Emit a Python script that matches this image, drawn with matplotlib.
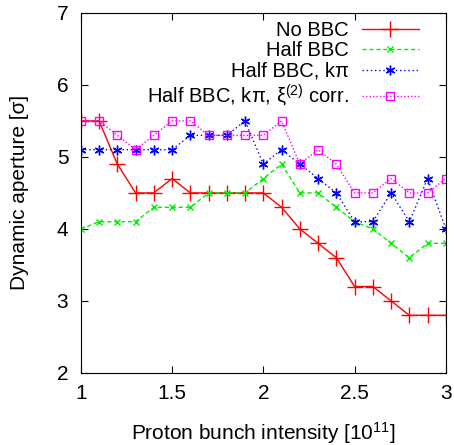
import numpy as np, matplotlib
matplotlib.use("Agg")
import matplotlib.pyplot as plt

plt.rcParams.update({"font.family": ["Liberation Sans", "DejaVu Sans"],
                     "mathtext.fontset": "custom", "mathtext.rm": "Liberation Sans",
                     "mathtext.it": "Liberation Sans:italic"})

# bunch intensity [1e11] and dynamic aperture [sigma]
intensity = [1.0, 1.1, 1.2, 1.3, 1.4, 1.5, 1.6, 1.7, 1.8, 1.9, 2.0,
             2.1, 2.2, 2.3, 2.4, 2.5, 2.6, 2.7, 2.8, 2.9, 3.0]
no_bbc = [5.5, 5.5, 4.9, 4.5, 4.5, 4.7, 4.5, 4.5, 4.5, 4.5, 4.5,
          4.3, 4.0, 3.8, 3.6, 3.2, 3.2, 3.0, 2.8, 2.8, 2.8]
half_bbc = [4.0, 4.1, 4.1, 4.1, 4.3, 4.3, 4.3, 4.5, 4.5, 4.5, 4.7,
            4.9, 4.5, 4.5, 4.3, 4.1, 4.0, 3.8, 3.6, 3.8, 3.8]
half_kpi = [5.1, 5.1, 5.1, 5.1, 5.1, 5.1, 5.3, 5.3, 5.3, 5.5, 4.9,
            5.1, 4.9, 4.7, 4.5, 4.1, 4.1, 4.5, 4.1, 4.7, 4.0]
half_kpi_xi = [5.5, 5.5, 5.3, 5.1, 5.3, 5.5, 5.5, 5.3, 5.3, 5.3, 5.3,
               5.5, 4.9, 5.1, 4.9, 4.5, 4.5, 4.7, 4.5, 4.5, 4.7]
labels = ["No BBC", "Half BBC", "Half BBC, kπ", "Half BBC, kπ, ξ$^{(2)}$ corr."]

fig = plt.figure(figsize=(4.54, 4.45), dpi=100)
ax = fig.add_axes([0.178, 0.162, 0.804, 0.809])

ax.plot(intensity, no_bbc, color="#ff0000", lw=1.0, ls="-", marker="+", ms=11, mew=1.0, label=labels[0])
ax.plot(intensity, half_bbc, color="#00ee00", lw=1.0, ls=(0, (3, 2)), marker="x", ms=5, mew=1.0, label=labels[1])
ax.plot(intensity, half_kpi, color="#0000ff", lw=1.0, ls=(0, (1, 2)), marker=(6, 2, 0), ms=7, mew=1.0, label=labels[2])
ax.plot(intensity, half_kpi_xi, color="#ff00ff", lw=1.0, ls=(0, (1, 1.5)), marker="s", ms=5.5, mew=1.0,
        mfc="none", label=labels[3])

ax.set_xlim(1, 3); ax.set_ylim(2, 7)
ax.set_xticks([1, 1.5, 2, 2.5, 3]); ax.set_xticklabels(["1", "1.5", "2", "2.5", "3"])
ax.set_yticks([2, 3, 4, 5, 6, 7])
ax.tick_params(direction="in", top=True, right=True, length=5, labelsize=15)
ax.tick_params(axis="x", pad=8); ax.tick_params(axis="y", pad=9)
ax.set_xlabel("Proton bunch intensity [10$^{11}$]", fontsize=15, labelpad=12)
ax.set_ylabel("Dynamic aperture [σ]", fontsize=15, labelpad=20)

ax.legend(loc="upper right", bbox_to_anchor=(0.96, 1.012), frameon=False, markerfirst=False,
          fontsize=14.5, handlelength=2.85, labelspacing=0.08, handletextpad=0.65, borderaxespad=0.2)

fig.savefig("out.png", dpi=100)
